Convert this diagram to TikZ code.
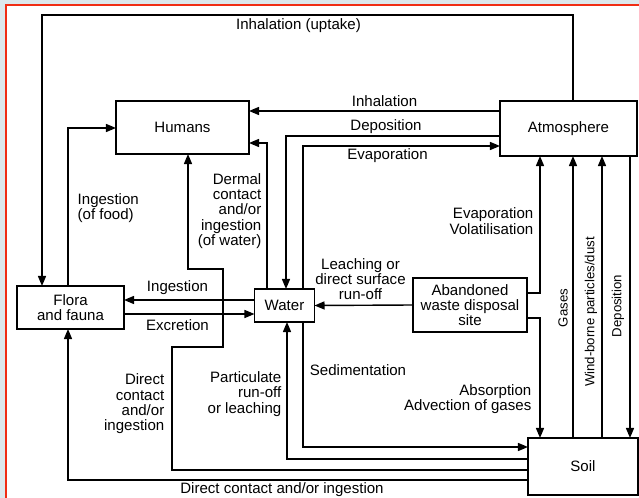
\documentclass[tikz,border=0pt]{standalone}
\usepackage{fontspec}
\setmainfont{Liberation Sans}
\usetikzlibrary{arrows.meta}
\definecolor{slidered}{RGB}{240,45,20}
\definecolor{slidebg}{RGB}{221,232,236}

\begin{document}
\begin{tikzpicture}[x=0.025cm,y=-0.025cm,>={Triangle[length=2.5mm,width=2mm]},line width=1pt,font=\fontsize{10.7}{10.9}\selectfont]
\tikzstyle{b}=[draw,inner sep=0pt,outer sep=0pt,align=center]
\tikzstyle{lbl}=[inner sep=0pt]
\tikzstyle{v}=[inner sep=0pt,rotate=90,font=\fontsize{9.4}{10}\selectfont]
\useasboundingbox (0,0) rectangle (639,498);
\fill[slidebg] (0,0) rectangle (639,498);
\fill[white] (6,5) rectangle (639,498);
\draw[slidered,line width=1.8pt] (6,498) -- (6,5) -- (639,5);
% boxes
\node[b,minimum width=3.325cm,minimum height=1.325cm] (hum) at (182.5,127.5) {Humans};
\node[b,minimum width=3.425cm,minimum height=1.375cm] (atm) at (568.5,128.5) {Atmosphere};
\node[b,minimum width=2.675cm,minimum height=1.075cm] (flora) at (70.5,307.5) {Flora\\and fauna};
\node[b,minimum width=1.5cm,minimum height=0.825cm] (water) at (284.5,305.5) {Water};
\node[b,minimum width=2.85cm,minimum height=1.35cm] (waste) at (470,305) {Abandoned\\waste disposal\\site};
\node[b,minimum width=2.75cm,minimum height=1.425cm] (soil) at (583,466.5) {Soil};
% air
\draw[->] (573,0 |- atm.north) |- (42,15) -- (42,0 |- flora.north);
\node[lbl] (l1) at (298.5,26) {Inhalation (uptake)};
\draw[->] (atm.west |- 0,111) -- (hum.east |- 0,111);
\node[lbl] (l2) at (384.5,101) {Inhalation};
\draw[->] (atm.west |- 0,136) -| (286,0 |- water.north);
\node[lbl] (l3) at (386,127) {Deposition};
\draw[->] (303,0 |- water.north) |- (atm.west |- 0,146);
\node[lbl] (l4) at (387.5,156) {Evaporation};
% humans and flora
\draw[->] (267,0 |- water.north) |- (hum.east |- 0,143);
\node[lbl,anchor=east,align=right] (l5) at (262,211) {Dermal\\contact\\and/or\\ingestion\\(of water)};
\draw[->] (68,0 |- flora.north) |- (hum.west |- 0,128);
\node[lbl,anchor=west,align=left] (l6) at (77,208) {Ingestion\\(of food)};
\draw[->] (water.west |- 0,300) -- (flora.east |- 0,300);
\node[lbl] (l7) at (177.5,288) {Ingestion};
\draw[->] (flora.east |- 0,314) -- (water.west |- 0,314);
\node[lbl] (l8) at (177.5,325) {Excretion};
% waste site
\draw[->] (waste.west) -- (water.east);
\node[lbl,align=center] (l9) at (360.5,279) {Leaching or\\direct surface\\run-off};
\draw[->] (waste.east |- 0,293) -| (540,0 |- atm.south);
\node[lbl,anchor=east,align=right] (l10) at (534,221) {Evaporation\\Volatilisation};
\draw[->] (waste.east |- 0,318) -| (540,0 |- soil.north);
\node[lbl,anchor=east,align=right] (l11) at (532,399) {Absorption\\Advection of gases};
% soil and atmosphere
\draw[->] (573,0 |- soil.north) -- (573,0 |- atm.south);
\node[v] (l12) at (563,308) {Gases};
\draw[->] (602,0 |- soil.north) -- (602,0 |- atm.south);
\node[v] (l13) at (591,312) {Wind-borne particles/dust};
\draw[->] (630,0 |- atm.south) -- (630,0 |- soil.north);
\node[v] (l14) at (618,306) {Deposition};
% soil and water
\draw[->] (303,0 |- water.south) |- (soil.west |- 0,447);
\node[lbl] (l15) at (358,370) {Sedimentation};
\draw[->] (soil.west |- 0,459) -| (287,0 |- water.south);
\node[lbl,anchor=east,align=right] (l16) at (282,394) {Particulate\\run-off\\or leaching};
\draw[->] (soil.west |- 0,470) -| (172,347) -- (223,347) |- (188,269) -- (188,0 |- hum.south);
\node[lbl,anchor=east,align=right] (l17) at (165,404) {Direct\\contact\\and/or\\ingestion};
\draw[->] (soil.west |- 0,480) -| (68,0 |- flora.south);
\node[lbl] (l18) at (282,489.5) {Direct contact and/or ingestion};
\end{tikzpicture}
\end{document}
